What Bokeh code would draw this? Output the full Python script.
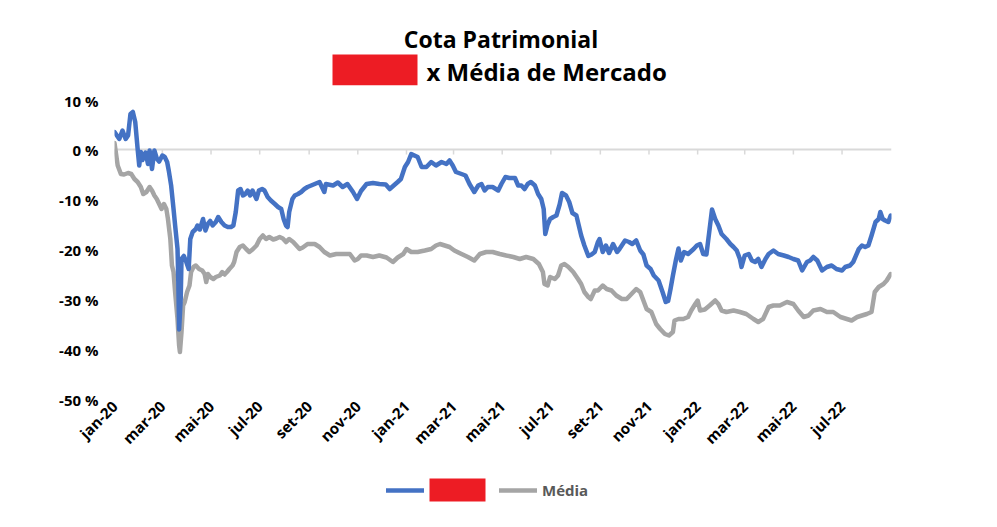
import math
import pandas as pd
from bokeh.plotting import figure
from bokeh.layouts import column
from bokeh.models import (Range1d, FixedTicker, PrintfTickFormatter, CustomJSTickFormatter,
                          Span, Legend, LegendItem, ColumnDataSource)
from bokeh.core.properties import value
from bokeh.embed import file_html
from bokeh.resources import INLINE

FONT = "Open Sans"
AZUL = "#4472C4"
CINZA = "#A5A5A5"
VERMELHO = "#ED1C24"

# ---------------- data ----------------
inicio = "2020-01-01"
fim = "2022-09-01"

# days since 2020-01-01 and cumulative return (%) of the fund (blue)
cota_dias = [0, 6, 10, 14, 17, 20, 23, 26, 29, 31, 33, 35, 39, 42, 44, 47, 50, 53, 56, 60, 63, 66, 68, 71, 74, 76, 79, 80, 81, 83, 84, 87, 90, 93, 95, 98, 102, 104, 107, 111, 114, 117, 120, 123, 127, 130, 134, 138, 142, 146, 149, 152, 155, 158, 161, 164, 167, 170, 173, 178, 181, 185, 188, 192, 196, 201, 205, 209, 212, 215, 217, 219, 223, 226, 230, 234, 238, 242, 251, 257, 263, 265, 274, 280, 286, 292, 299, 304, 309, 316, 324, 332, 340, 345, 350, 355, 359, 364, 368, 372, 376, 380, 385, 391, 397, 403, 410, 416, 420, 424, 428, 435, 440, 445, 451, 456, 460, 464, 468, 474, 481, 485, 490, 495, 502, 506, 510, 514, 518, 522, 527, 531, 535, 538, 540, 543, 546, 550, 554, 558, 561, 566, 570, 574, 579, 582, 585, 589, 594, 598, 602, 606, 608, 612, 616, 620, 625, 630, 633, 640, 645, 649, 654, 659, 663, 667, 672, 676, 682, 687, 691, 694, 697, 700, 704, 707, 710, 714, 719, 726, 730, 734, 738, 742, 746, 749, 753, 757, 761, 767, 772, 776, 780, 784, 786, 790, 795, 799, 803, 807, 811, 816, 820, 826, 832, 839, 845, 851, 857, 862, 868, 872, 876, 881, 887, 893, 899, 905, 912, 916, 922, 926, 933, 937, 941, 945, 949, 954, 958, 960, 963, 966, 970, 973]
cota_valores = [3.5, 2.1, 3.8, 2.1, 2.8, 7.1, 7.5, 5.5, 0.1, -3.2, -0.5, -2.1, -0.6, -2.9, -0.2, -3.9, -0.2, -1.8, -2.4, -1.2, -1.5, -2.5, -4.2, -7.2, -11.9, -15.2, -19.9, -26.5, -36.0, -29.9, -21.9, -21.3, -22.5, -23.9, -17.9, -16.5, -15.9, -15.2, -16.0, -13.9, -16.2, -14.9, -14.3, -15.2, -14.5, -13.5, -14.5, -15.2, -15.5, -15.5, -15.2, -12.5, -8.2, -7.9, -9.2, -8.9, -8.2, -9.2, -8.2, -9.9, -8.2, -7.9, -8.2, -9.5, -10.2, -10.9, -11.5, -11.9, -13.9, -15.2, -15.5, -12.5, -9.9, -9.2, -8.9, -8.5, -7.9, -7.5, -6.9, -6.5, -8.5, -6.9, -7.2, -6.6, -7.5, -6.9, -8.5, -9.9, -8.3, -6.9, -6.7, -6.9, -7.0, -7.9, -7.2, -6.5, -5.9, -3.5, -2.5, -0.9, -1.2, -1.5, -3.5, -3.5, -2.5, -3.2, -2.5, -2.9, -2.2, -3.2, -4.5, -4.9, -5.2, -6.9, -8.5, -7.2, -6.9, -8.2, -7.5, -7.5, -8.2, -6.9, -5.5, -5.7, -5.7, -7.2, -7.2, -7.9, -6.9, -6.5, -7.2, -8.9, -9.9, -11.9, -16.9, -15.0, -13.9, -13.5, -13.2, -11.0, -8.7, -9.2, -10.5, -12.7, -13.2, -15.2, -17.2, -19.2, -21.3, -21.0, -20.5, -18.5, -17.9, -20.5, -19.2, -20.7, -18.9, -20.5, -19.9, -18.2, -18.5, -18.9, -18.2, -20.2, -21.0, -23.2, -23.9, -25.2, -26.2, -28.5, -30.5, -30.3, -27.9, -25.2, -21.9, -19.8, -22.2, -20.5, -20.9, -19.9, -19.2, -18.9, -20.9, -21.0, -15.9, -12.0, -13.9, -15.2, -16.9, -17.9, -18.9, -19.5, -20.2, -21.9, -23.5, -21.2, -20.9, -22.2, -22.5, -21.9, -23.5, -21.9, -20.9, -20.2, -20.9, -21.2, -21.5, -21.9, -22.2, -24.2, -22.5, -22.2, -21.5, -22.2, -24.2, -23.5, -23.2, -23.9, -24.2, -23.5, -23.2, -22.5, -19.9, -19.2, -19.5, -19.2, -17.2, -14.5, -13.9, -12.5, -13.9, -14.2, -14.5, -13.2]

# days since 2020-01-01 and market average (%) (grey)
media_dias = [0, 4, 8, 12, 17, 21, 25, 29, 33, 36, 40, 44, 47, 50, 53, 56, 59, 62, 65, 67, 70, 72, 74, 76, 79, 81, 82, 84, 86, 88, 91, 94, 96, 99, 102, 106, 110, 113, 115, 117, 120, 124, 127, 132, 135, 138, 141, 144, 148, 150, 153, 157, 161, 165, 169, 173, 178, 182, 186, 190, 194, 199, 203, 207, 211, 215, 219, 224, 228, 232, 236, 242, 251, 257, 263, 270, 278, 286, 295, 301, 305, 309, 316, 324, 332, 341, 349, 355, 362, 366, 372, 380, 389, 397, 403, 408, 414, 420, 426, 435, 443, 451, 458, 466, 474, 483, 491, 500, 508, 516, 525, 532, 537, 539, 543, 546, 552, 556, 560, 564, 569, 575, 581, 585, 589, 594, 597, 602, 606, 612, 617, 623, 629, 636, 642, 648, 654, 659, 663, 667, 673, 679, 684, 690, 695, 700, 702, 707, 713, 719, 723, 728, 731, 734, 740, 746, 753, 757, 761, 767, 776, 784, 792, 801, 807, 813, 820, 826, 834, 843, 851, 857, 864, 870, 876, 885, 893, 901, 910, 918, 924, 931, 937, 943, 949, 953, 958, 964, 968, 973]
media_valores = [1.3, -3.2, -4.9, -5.0, -4.7, -4.9, -5.9, -6.5, -7.5, -8.9, -8.5, -7.5, -8.2, -9.2, -9.9, -10.9, -11.9, -10.9, -11.9, -13.9, -17.9, -23.2, -24.5, -28.5, -33.9, -39.2, -40.5, -36.5, -31.2, -30.5, -28.5, -27.2, -24.5, -23.5, -23.2, -23.9, -24.2, -24.9, -26.5, -24.9, -25.5, -25.9, -25.5, -25.2, -24.5, -25.0, -24.5, -23.9, -23.2, -22.5, -20.5, -19.5, -19.2, -19.9, -20.5, -20.0, -19.2, -17.9, -17.2, -17.9, -17.5, -18.0, -17.8, -17.5, -17.8, -18.5, -17.9, -18.5, -19.2, -19.9, -19.6, -18.9, -18.9, -19.5, -20.5, -21.2, -20.9, -20.9, -20.9, -22.2, -21.9, -21.2, -21.2, -21.5, -21.2, -21.6, -22.5, -21.6, -20.9, -19.9, -20.5, -20.5, -20.2, -19.9, -19.2, -18.9, -19.2, -19.5, -20.2, -20.9, -21.5, -22.2, -20.9, -20.5, -20.5, -20.9, -21.2, -21.5, -21.9, -21.5, -21.9, -22.9, -24.5, -26.9, -27.2, -25.5, -25.9, -25.2, -23.2, -22.9, -23.5, -24.5, -25.9, -26.9, -28.5, -29.5, -29.9, -28.2, -28.2, -27.2, -27.9, -28.2, -29.2, -29.9, -29.9, -28.9, -27.9, -28.5, -30.2, -31.9, -32.5, -34.9, -35.9, -36.9, -37.2, -36.5, -34.2, -33.9, -33.9, -33.5, -32.2, -30.9, -30.2, -32.2, -32.0, -31.2, -30.2, -30.9, -32.2, -32.5, -32.2, -32.5, -32.9, -33.9, -34.5, -33.9, -31.5, -31.2, -31.2, -30.5, -30.9, -32.2, -33.5, -33.2, -32.2, -31.9, -32.5, -32.5, -33.5, -33.9, -34.2, -33.5, -33.2, -32.9, -32.5, -28.5, -27.5, -26.9, -26.2, -24.9]

y_ticks = [-50, -40, -30, -20, -10, 0, 10]
x_tick_datas = ["2020-01-01", "2020-03-01", "2020-05-01", "2020-07-01", "2020-09-01", "2020-11-01",
                "2021-01-01", "2021-03-01", "2021-05-01", "2021-07-01", "2021-09-01", "2021-11-01",
                "2022-01-01", "2022-03-01", "2022-05-01", "2022-07-01"]
x_tick_rotulos = ["jan-20", "mar-20", "mai-20", "jul-20", "set-20", "nov-20",
                  "jan-21", "mar-21", "mai-21", "jul-21", "set-21", "nov-21",
                  "jan-22", "mar-22", "mai-22", "jul-22"]

titulo_1 = "Cota Patrimonial"
titulo_2 = "x Média de Mercado"
serie_1 = ""        # fund name (redacted in the reference)
serie_2 = "Média"

# ---------------- layout constants (canvas pixels) ----------------
W = 980
BL, BR = 114, 89            # left / right borders shared by all three strips
X0, X1 = BL, W - BR         # pixel span of the shared frame

t0 = pd.Timestamp(inicio)


def to_dates(dias):
    return t0 + pd.to_timedelta(dias, unit="D")


def strip(height):
    f = figure(width=W, height=height, x_range=Range1d(X0, X1), y_range=Range1d(height, 0),
               x_axis_location=None, y_axis_location=None,
               output_backend="svg", toolbar_location=None, title=None)
    f.grid.visible = False
    f.outline_line_color = None
    f.background_fill_color = "white"
    f.border_fill_color = "white"
    f.min_border_top = 0
    f.min_border_bottom = 0
    f.min_border_left = BL
    f.min_border_right = BR
    return f


# ---------------- title strip ----------------
H_T = 90
ft = strip(H_T)
ft.text(x=[500.5], y=[38.5], text=[titulo_1], text_align="center", text_baseline="alphabetic",
        text_font=value(FONT), text_font_size="23px", text_font_style="bold", text_color="black")
ft.text(x=[426], y=[71], text=[titulo_2], text_align="left", text_baseline="alphabetic",
        text_font=value(FONT), text_font_size="24px", text_font_style="bold", text_color="black")
ft.quad(left=[332], right=[417], top=[54], bottom=[84.7], fill_color=VERMELHO, line_color=None)

# ---------------- main chart ----------------
src_cota = ColumnDataSource(dict(x=to_dates(cota_dias), y=cota_valores))
src_media = ColumnDataSource(dict(x=to_dates(media_dias), y=media_valores))
tick_dates = pd.to_datetime(x_tick_datas)
tick_ms = [float(d.value // 10**6) for d in tick_dates]

H_M = 376
p = figure(width=W, height=H_M, x_axis_type="datetime",
           x_range=Range1d(pd.Timestamp(inicio), pd.Timestamp(fim)),
           y_range=Range1d(-50, 10),
           output_backend="svg", toolbar_location=None, title=None)
p.grid.visible = False
p.outline_line_color = None
p.background_fill_color = "white"
p.border_fill_color = "white"
p.min_border_left = BL
p.min_border_right = BR
p.min_border_top = 9
p.min_border_bottom = 67

zero = Span(location=0, dimension="width", line_color="#D9D9D9", line_width=2, level="underlay")
p.add_layout(zero)
p.segment(x0=tick_dates, y0=[0] * len(tick_dates), x1=tick_dates, y1=[-1] * len(tick_dates),
          line_color="#D9D9D9", line_width=1.5)

p.line("x", "y", source=src_media, line_color=CINZA, line_width=4.5,
       line_join="round", line_cap="round")
p.line("x", "y", source=src_cota, line_color=AZUL, line_width=4.5,
       line_join="round", line_cap="round")

ya = p.yaxis[0]
ya.ticker = FixedTicker(ticks=y_ticks)
ya.formatter = PrintfTickFormatter(format="%d %%")
ya.axis_line_color = None
ya.major_tick_line_color = None
ya.minor_tick_line_color = None
ya.major_tick_out = 0
ya.major_tick_in = 0
ya.major_label_standoff = 16
ya.major_label_text_font = FONT
ya.major_label_text_font_size = "15px"
ya.major_label_text_font_style = "bold"
ya.major_label_text_color = "black"

xa = p.xaxis[0]
xa.ticker = FixedTicker(ticks=tick_ms)
xa.formatter = CustomJSTickFormatter(args=dict(tvals=tick_ms, tlabels=x_tick_rotulos), code="""
let best = 0, bd = Infinity;
for (let i = 0; i < tvals.length; i++) {
  const dd = Math.abs(tvals[i] - tick);
  if (dd < bd) { bd = dd; best = i; }
}
return tlabels[best];
""")
xa.major_label_orientation = math.pi / 4
xa.axis_line_color = None
xa.major_tick_line_color = None
xa.minor_tick_line_color = None
xa.major_tick_out = 0
xa.major_tick_in = 0
xa.major_label_standoff = 4
xa.major_label_text_font = FONT
xa.major_label_text_font_size = "15px"
xa.major_label_text_font_style = "bold"
xa.major_label_text_color = "black"

# ---------------- legend strip ----------------
H_L = 50
fl = strip(H_L)
nan = float("nan")
l_cota = fl.line(x=[nan, nan], y=[nan, nan], line_color=AZUL, line_width=4.5, line_cap="round")
l_media = fl.line(x=[nan, nan], y=[nan, nan], line_color=CINZA, line_width=4.5, line_cap="round")
legend = Legend(items=[LegendItem(label=value(serie_1), renderers=[l_cota]),
                       LegendItem(label=value(serie_2), renderers=[l_media])],
                orientation="horizontal", location=(386 - X0, 16),
                glyph_width=38, glyph_height=20, label_width=56, label_height=20,
                label_standoff=5, spacing=14, padding=0, margin=0,
                border_line_color=None, background_fill_alpha=0,
                label_text_font=FONT, label_text_font_size="15px",
                label_text_font_style="bold", label_text_color="#595959")
fl.add_layout(legend)
fl.quad(left=[429], right=[485], top=[12], bottom=[35], fill_color=VERMELHO, line_color=None)

layout = column(ft, p, fl, spacing=0)
open("out.html", "w").write(file_html(layout, INLINE))
